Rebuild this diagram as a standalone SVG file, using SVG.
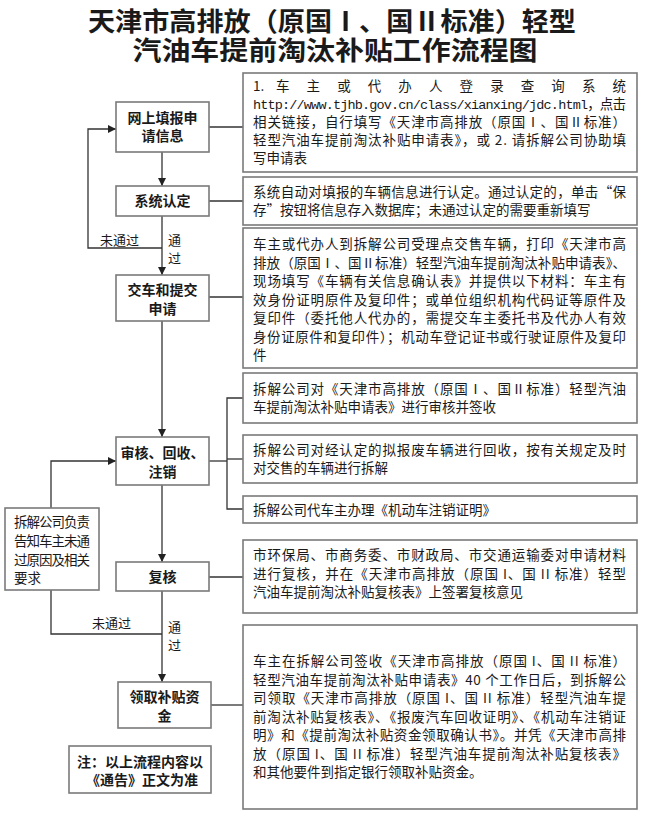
<svg xmlns="http://www.w3.org/2000/svg" width="645" height="818" viewBox="0 0 645 818">
<defs>
<marker id="ah" viewBox="0 0 10 10" refX="10" refY="5" markerWidth="8" markerHeight="8" markerUnits="userSpaceOnUse" orient="auto">
<path d="M0,0 L10,5 L0,10 z" fill="#222"/>
</marker>
<style>
.box{fill:#fff;stroke:#7a7a7a;stroke-width:1.6}
.ln{fill:none;stroke:#333;stroke-width:1.3}
.title{font-family:"Noto Sans CJK SC",sans-serif;font-size:26px;font-weight:bold;fill:#1a1a1a;text-anchor:middle}
.node{font-family:"Noto Sans CJK SC",sans-serif;font-size:14px;font-weight:bold;fill:#1a1a1a;text-anchor:middle}
.body{font-family:"Noto Sans CJK SC",sans-serif;font-size:13.5px;fill:#1a1a1a}
.lbl{font-family:"Noto Sans CJK SC",sans-serif;font-size:13px;fill:#1a1a1a}
.mono{font-family:"Liberation Mono",monospace}
</style>
</defs>
<rect width="645" height="818" fill="#fff"/>
<g id="title">
<text class="title" x="332" y="31" textLength="488" lengthAdjust="spacingAndGlyphs">天津市高排放（原国Ⅰ、国Ⅱ标准）轻型</text>
<text class="title" x="335" y="60" textLength="405" lengthAdjust="spacingAndGlyphs">汽油车提前淘汰补贴工作流程图</text>
</g>
<g id="connectors">
<path class="ln" d="M162,152 V186" marker-end="url(#ah)"/>
<path class="ln" d="M162,216 V275" marker-end="url(#ah)"/>
<path class="ln" d="M162,248 H88 V129 H116" marker-end="url(#ah)"/>
<path class="ln" d="M162,321 V437" marker-end="url(#ah)"/>
<path class="ln" d="M162,485 V562" marker-end="url(#ah)"/>
<path class="ln" d="M51,508 V461 H116" marker-end="url(#ah)"/>
<path class="ln" d="M162,591 V682" marker-end="url(#ah)"/>
<path class="ln" d="M51,590 V634 H162"/>
<path class="ln" d="M209,127 H243"/>
<path class="ln" d="M209,201 H243"/>
<path class="ln" d="M209,297 H243"/>
<path class="ln" d="M209,461 H227"/>
<path class="ln" d="M243,398 H227 V509 H243"/>
<path class="ln" d="M227,459 H243"/>
<path class="ln" d="M209,577 H243"/>
<path class="ln" d="M211,705 H243"/>
<text class="lbl" x="100" y="245">未通过</text>
<text class="lbl" x="168" y="245">通</text>
<text class="lbl" x="168" y="263">过</text>
<text class="lbl" x="92" y="628">未通过</text>
<text class="lbl" x="168" y="632">通</text>
<text class="lbl" x="168" y="650">过</text>
</g>
<g id="n1">
<rect class="box" x="116" y="102" width="93" height="50"/>
<text class="node" x="162.5" y="123">网上填报申</text>
<text class="node" x="162.5" y="141">请信息</text>
</g>
<g id="n2">
<rect class="box" x="116" y="186" width="93" height="30"/>
<text class="node" x="162.5" y="206">系统认定</text>
</g>
<g id="n3">
<rect class="box" x="116" y="275" width="93" height="46"/>
<text class="node" x="162.5" y="295">交车和提交</text>
<text class="node" x="162.5" y="314">申请</text>
</g>
<g id="n4">
<rect class="box" x="116" y="437" width="93" height="48"/>
<text class="node" x="162.5" y="458">审核、回收、</text>
<text class="node" x="162.5" y="477">注销</text>
</g>
<g id="n5">
<rect class="box" x="116" y="562" width="93" height="29"/>
<text class="node" x="162.5" y="582">复核</text>
</g>
<g id="n6">
<rect class="box" x="118" y="682" width="93" height="46"/>
<text class="node" x="164.5" y="702">领取补贴资</text>
<text class="node" x="164.5" y="721">金</text>
</g>
<g id="note">
<rect class="box" x="69" y="746" width="142" height="47"/>
<text class="node" x="140" y="767">注：以上流程内容以</text>
<text class="node" x="142" y="785">《通告》正文为准</text>
</g>
<g id="fail">
<rect class="box" x="5" y="508" width="94" height="82"/>
<text class="body" x="14" y="527" textLength="76" lengthAdjust="spacing">拆解公司负责</text>
<text class="body" x="14" y="546" textLength="76" lengthAdjust="spacing">告知车主未通</text>
<text class="body" x="14" y="565" textLength="76" lengthAdjust="spacing">过原因及相关</text>
<text class="body" x="14" y="583">要求</text>
</g>
<g id="d1">
<rect class="box" x="243" y="73" width="394" height="99"/>
<text class="body" x="253" y="91">1.</text>
<text class="body" x="276" y="91" textLength="350" lengthAdjust="spacing">车主或代办人登录查询系统</text>
<text class="body" x="253" y="109" textLength="373" lengthAdjust="spacing"><tspan class="mono">http://www.tjhb.gov.cn/class/xianxing/jdc.html</tspan>，点击</text>
<text class="body" x="253" y="127" textLength="373" lengthAdjust="spacing">相关链接，自行填写《天津市高排放（原国Ⅰ、国Ⅱ标准）</text>
<text class="body" x="253" y="145" textLength="373" lengthAdjust="spacing">轻型汽油车提前淘汰补贴申请表》，或 2. 请拆解公司协助填</text>
<text class="body" x="253" y="163">写申请表</text>
</g>
<g id="d2">
<rect class="box" x="243" y="177" width="394" height="48"/>
<text class="body" x="253" y="197" textLength="373" lengthAdjust="spacing">系统自动对填报的车辆信息进行认定。通过认定的，单击“保</text>
<text class="body" x="253" y="215">存”按钮将信息存入数据库；未通过认定的需要重新填写</text>
</g>
<g id="d3">
<rect class="box" x="243" y="228" width="394" height="140"/>
<text class="body" x="253" y="249" textLength="373" lengthAdjust="spacing">车主或代办人到拆解公司受理点交售车辆，打印《天津市高</text>
<text class="body" x="253" y="267.5" textLength="373" lengthAdjust="spacing">排放（原国Ⅰ、国Ⅱ标准）轻型汽油车提前淘汰补贴申请表》、</text>
<text class="body" x="253" y="286" textLength="373" lengthAdjust="spacing">现场填写《车辆有关信息确认表》并提供以下材料：车主有</text>
<text class="body" x="253" y="304.5" textLength="373" lengthAdjust="spacing">效身份证明原件及复印件；或单位组织机构代码证等原件及</text>
<text class="body" x="253" y="323" textLength="373" lengthAdjust="spacing">复印件（委托他人代办的，需提交车主委托书及代办人有效</text>
<text class="body" x="253" y="341.5" textLength="373" lengthAdjust="spacing">身份证原件和复印件）；机动车登记证书或行驶证原件及复印</text>
<text class="body" x="253" y="360">件</text>
</g>
<g id="d4">
<rect class="box" x="243" y="373" width="394" height="50"/>
<text class="body" x="253" y="394" textLength="373" lengthAdjust="spacing">拆解公司对《天津市高排放（原国Ⅰ、国Ⅱ标准）轻型汽油</text>
<text class="body" x="253" y="412">车提前淘汰补贴申请表》进行审核并签收</text>
</g>
<g id="d5">
<rect class="box" x="243" y="435" width="394" height="48"/>
<text class="body" x="253" y="455" textLength="373" lengthAdjust="spacing">拆解公司对经认定的拟报废车辆进行回收，按有关规定及时</text>
<text class="body" x="253" y="473">对交售的车辆进行拆解</text>
</g>
<g id="d6">
<rect class="box" x="243" y="496" width="394" height="27"/>
<text class="body" x="253" y="515">拆解公司代车主办理《机动车注销证明》</text>
</g>
<g id="d7">
<rect class="box" x="243" y="540" width="394" height="73"/>
<text class="body" x="253" y="560" textLength="373" lengthAdjust="spacing">市环保局、市商务委、市财政局、市交通运输委对申请材料</text>
<text class="body" x="253" y="579" textLength="373" lengthAdjust="spacing">进行复核，并在《天津市高排放（原国 I、国 II 标准）轻型</text>
<text class="body" x="253" y="597">汽油车提前淘汰补贴复核表》上签署复核意见</text>
</g>
<g id="d8">
<rect class="box" x="243" y="625" width="394" height="184"/>
<text class="body" x="253" y="666" textLength="373" lengthAdjust="spacing">车主在拆解公司签收《天津市高排放（原国 I、国 II 标准）</text>
<text class="body" x="253" y="684.5" textLength="373" lengthAdjust="spacing">轻型汽油车提前淘汰补贴申请表》40 个工作日后，到拆解公</text>
<text class="body" x="253" y="703" textLength="373" lengthAdjust="spacing">司领取《天津市高排放（原国 I、国 II 标准）轻型汽油车提</text>
<text class="body" x="253" y="721.5" textLength="373" lengthAdjust="spacing">前淘汰补贴复核表》、《报废汽车回收证明》、《机动车注销证</text>
<text class="body" x="253" y="740" textLength="373" lengthAdjust="spacing">明》和《提前淘汰补贴资金领取确认书》。并凭《天津市高排</text>
<text class="body" x="253" y="758.5" textLength="373" lengthAdjust="spacing">放（原国 I、国 II 标准）轻型汽油车提前淘汰补贴复核表》</text>
<text class="body" x="253" y="777">和其他要件到指定银行领取补贴资金。</text>
</g>
</svg>
